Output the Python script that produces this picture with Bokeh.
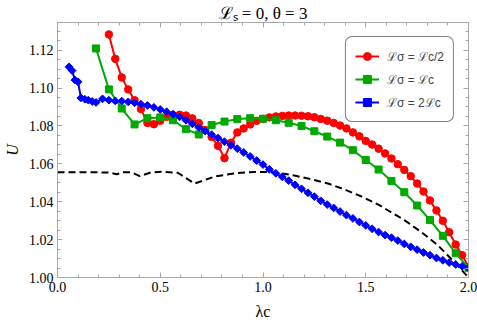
from math import pi
from bokeh.plotting import figure
from bokeh.models import (Range1d, FixedTicker, PrintfTickFormatter, LinearAxis,
                          Legend, LegendItem, CustomJSTickFormatter)
from bokeh.embed import file_html
from bokeh.resources import INLINE

# ---------------- data ----------------
red_x = [0.25, 0.281, 0.3125, 0.344, 0.375, 0.406, 0.4375, 0.469, 0.5, 0.531,
         0.5625, 0.594, 0.625, 0.656, 0.6875, 0.719, 0.75, 0.781, 0.8125, 0.844,
         0.875, 0.906, 0.9375, 0.969, 1.0, 1.031, 1.0625, 1.094, 1.125, 1.156,
         1.1875, 1.219, 1.25, 1.281, 1.3125, 1.344, 1.375, 1.406, 1.4375, 1.469,
         1.5, 1.531, 1.5625, 1.594, 1.625, 1.656, 1.6875, 1.719, 1.75, 1.781,
         1.8125, 1.844, 1.875, 1.906, 1.9375, 1.969, 2.0]
red_y = [1.1283, 1.1154, 1.1056, 1.0993, 1.0936, 1.0889, 1.0816, 1.0809, 1.0827, 1.0848,
         1.0857, 1.0859, 1.0855, 1.0840, 1.0815, 1.0778, 1.0742, 1.0695, 1.0630, 1.0711,
         1.0766, 1.0787, 1.0808, 1.0827, 1.0837, 1.0845, 1.0850, 1.0853, 1.0855, 1.0855,
         1.0854, 1.0851, 1.0846, 1.0837, 1.0828, 1.0816, 1.0802, 1.0787, 1.0766, 1.0745,
         1.0721, 1.0702, 1.0680, 1.0655, 1.0628, 1.0598, 1.0568, 1.0535, 1.0496, 1.0454,
         1.0407, 1.0354, 1.0299, 1.0239, 1.0174, 1.0118, 1.0056]

green_x = [0.1875, 0.25, 0.3125, 0.375, 0.4375, 0.5, 0.5625, 0.625, 0.6875, 0.75,
           0.8125, 0.875, 0.9375, 1.0, 1.0625, 1.125, 1.1875, 1.25, 1.3125, 1.375,
           1.4375, 1.5, 1.5625, 1.625, 1.6875, 1.75, 1.8125, 1.875, 1.9375, 2.0]
green_y = [1.1209, 1.0993, 1.0892, 1.0808, 1.0841, 1.0845, 1.0830, 1.0783, 1.0755, 1.0805,
           1.0823, 1.0836, 1.0841, 1.0838, 1.0830, 1.0817, 1.0800, 1.0772, 1.0744, 1.0712,
           1.0672, 1.0620, 1.0570, 1.0510, 1.0450, 1.0380, 1.0303, 1.0220, 1.0128, 1.0051]

blue_x = [0.056, 0.071, 0.085, 0.100, 0.114, 0.133, 0.150, 0.169,
          0.1875, 0.219, 0.25, 0.281, 0.3125, 0.344, 0.375, 0.406, 0.4375, 0.469,
          0.5, 0.531, 0.5625, 0.594, 0.625, 0.656, 0.6875, 0.719, 0.75, 0.781,
          0.8125, 0.844, 0.875, 0.906, 0.9375, 0.969, 1.0, 1.031, 1.0625, 1.094,
          1.125, 1.156, 1.1875, 1.219, 1.25, 1.281, 1.3125, 1.344, 1.375, 1.406,
          1.4375, 1.469, 1.5, 1.531, 1.5625, 1.594, 1.625, 1.656, 1.6875, 1.719,
          1.75, 1.781, 1.8125, 1.844, 1.875, 1.906, 1.9375, 1.969, 2.0]
blue_y = [1.1112, 1.1092, 1.1042, 1.1033, 1.0948, 1.0941, 1.0936, 1.0929,
          1.0924, 1.0943, 1.0936, 1.0932, 1.0931, 1.0927, 1.0922, 1.0915, 1.0908, 1.0898,
          1.0887, 1.0875, 1.0862, 1.0848, 1.0830, 1.0811, 1.0792, 1.0773, 1.0754, 1.0736,
          1.0717, 1.0698, 1.0680, 1.0660, 1.0639, 1.0617, 1.0596, 1.0571, 1.0550, 1.0531,
          1.0511, 1.0489, 1.0468, 1.0447, 1.0427, 1.0405, 1.0385, 1.0367, 1.0348, 1.0329,
          1.0312, 1.0293, 1.0275, 1.0257, 1.0240, 1.0224, 1.0210, 1.0195, 1.0177, 1.0162,
          1.0147, 1.0132, 1.0118, 1.0103, 1.0091, 1.0079, 1.0069, 1.0059, 1.0050]

black_x = [0.0, 0.1, 0.2, 0.25, 0.287, 0.32, 0.36, 0.40, 0.45, 0.506, 0.585, 0.667,
           0.765, 0.862, 0.96, 1.056, 1.153, 1.234, 1.316, 1.396, 1.477, 1.566, 1.607,
           1.688, 1.769, 1.85, 1.931, 2.0]
black_y = [1.0556, 1.0556, 1.0555, 1.0554, 1.0545, 1.0555, 1.0555, 1.0535, 1.0553, 1.0558,
           1.0553, 1.0496, 1.0533, 1.0550, 1.0557, 1.0556, 1.0538, 1.0519, 1.0496, 1.0465,
           1.0429, 1.0382, 1.0355, 1.0303, 1.0241, 1.0171, 1.0082, 1.0000]

x_ticks = [0.0, 0.5, 1.0, 1.5, 2.0]
x_minor = [0.1, 0.2, 0.3, 0.4, 0.6, 0.7, 0.8, 0.9, 1.1, 1.2, 1.3, 1.4, 1.6, 1.7, 1.8, 1.9]
y_ticks = [1.00, 1.02, 1.04, 1.06, 1.08, 1.10, 1.12]
y_minor = [1.005, 1.01, 1.015, 1.025, 1.03, 1.035, 1.045, 1.05, 1.055, 1.065, 1.07, 1.075,
           1.085, 1.09, 1.095, 1.105, 1.11, 1.115, 1.125, 1.13]

labels = ["ℒσ = ℒc/2", "ℒσ = ℒc", "ℒσ = 2ℒc"]
colors = ["#ff0000", "#00a800", "#0000ff"]
title_text = "ℒₛ = 0, θ = 3"
x_label = "λc"
y_label = "U"

# ---------------- figure ----------------
W, H = 477, 327
p = figure(width=W, height=H, output_backend="svg", toolbar_location=None,
           x_range=Range1d(0.0, 2.0), y_range=Range1d(1.0, 1.1346),
           min_border_left=56, min_border_right=9, min_border_top=22, min_border_bottom=50)
p.xgrid.visible = False
p.ygrid.visible = False
GRAY = "#a8a8a8"
p.outline_line_color = GRAY
p.background_fill_color = "white"
p.border_fill_color = "white"

p.title.text = title_text
p.title.align = "center"
p.title.text_font = "Liberation Serif"
p.title.text_font_style = "normal"
p.title.text_font_size = "17px"
p.title.text_color = "black"
p.title.standoff = 0
p.title.offset = 0


def style_axis(ax, labels_on=True):
    ax.axis_line_color = GRAY
    ax.major_tick_line_color = GRAY
    ax.minor_tick_line_color = GRAY
    ax.major_tick_in = 5
    ax.major_tick_out = 0
    ax.minor_tick_in = 3
    ax.minor_tick_out = 0
    ax.major_label_text_font = "Liberation Serif"
    ax.major_label_text_font_size = "14px" if labels_on else "0px"
    ax.major_label_text_color = "black"
    ax.major_label_standoff = 4 if labels_on else 0


p.xaxis.ticker = FixedTicker(ticks=x_ticks, minor_ticks=x_minor)
p.xaxis.formatter = PrintfTickFormatter(format="%.1f")
p.yaxis.ticker = FixedTicker(ticks=y_ticks, minor_ticks=y_minor)
p.yaxis.formatter = PrintfTickFormatter(format="%.2f")
for ax in p.xaxis + p.yaxis:
    style_axis(ax)

p.xaxis.axis_label = x_label
p.xaxis.axis_label_text_font = "Liberation Serif"
p.xaxis.axis_label_text_font_style = "normal"
p.xaxis.axis_label_text_font_size = "16px"
p.xaxis.axis_label_text_color = "black"
p.xaxis.axis_label_standoff = 8

p.yaxis.axis_label = y_label
p.yaxis.axis_label_text_font = "Liberation Serif"
p.yaxis.axis_label_text_font_style = "italic"
p.yaxis.axis_label_text_font_size = "16px"
p.yaxis.axis_label_text_color = "black"
p.yaxis.axis_label_standoff = 5

top = LinearAxis(ticker=FixedTicker(ticks=x_ticks, minor_ticks=x_minor),
                 formatter=CustomJSTickFormatter(code="return ''"))
style_axis(top, False)
p.add_layout(top, "above")
right = LinearAxis(ticker=FixedTicker(ticks=y_ticks, minor_ticks=y_minor),
                   formatter=CustomJSTickFormatter(code="return ''"))
style_axis(right, False)
p.add_layout(right, "right")

# ---------------- data glyphs ----------------
p.line(black_x, black_y, line_color="black", line_width=2, line_dash="7 4")

rl = p.line(red_x, red_y, line_color=colors[0], line_width=2)
rs = p.scatter(red_x, red_y, marker="circle", size=7.5, fill_color=colors[0],
               line_color=colors[0])
gl = p.line(green_x, green_y, line_color=colors[1], line_width=2)
gs = p.scatter(green_x, green_y, marker="square", size=7, fill_color=colors[1],
               line_color=colors[1])
bl = p.line(blue_x, blue_y, line_color=colors[2], line_width=2)
bs = p.scatter(blue_x, blue_y, marker="square", angle=pi / 4, size=5.5,
               fill_color=colors[2], line_color=colors[2])

# ---------------- legend ----------------
legend = Legend(items=[LegendItem(label=labels[0], renderers=[rl, rs]),
                       LegendItem(label=labels[1], renderers=[gl, gs]),
                       LegendItem(label=labels[2], renderers=[bl, bs])],
                location="top_right", margin=14)
legend.border_line_color = "black"
legend.border_line_width = 1
legend.background_fill_color = "white"
legend.background_fill_alpha = 1.0
legend.label_text_font = "Liberation Sans"
legend.label_text_font_size = "12px"
legend.glyph_width = 24
legend.glyph_height = 20
legend.label_height = 20
legend.spacing = 3
legend.padding = 9
legend.label_standoff = 8
if "border_radius" in Legend.properties():
    legend.border_radius = 7
p.add_layout(legend)

open("out.html", "w").write(file_html(p, INLINE))
